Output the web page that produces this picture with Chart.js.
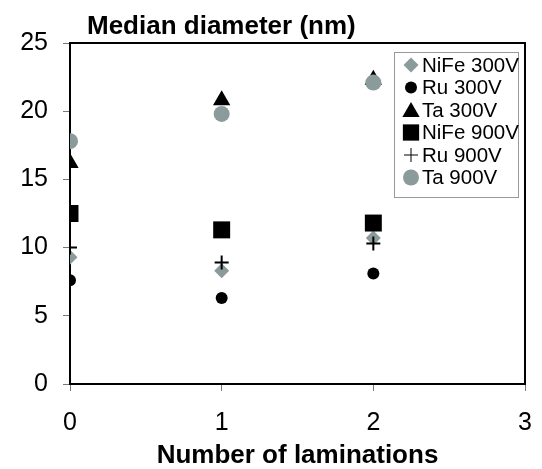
<!DOCTYPE html>
<html>
<head>
<meta charset="utf-8">
<script src="https://cdn.jsdelivr.net/npm/chart.js@4/dist/chart.umd.min.js"></script>
<style>
  html, body { margin: 0; padding: 0; background: #fff; }
</style>
</head>
<body>
<canvas id="chart" width="542" height="469"></canvas>
<script>
// values
const laminations = [0, 1, 2];
const nife300 = [9.3, 8.3, 10.7];
const ru300 = [7.6, 6.3, 8.1];
const ta300 = [16.2, 20.8, 22.3];
const nife900 = [12.5, 11.3, 11.8];
const ru900 = [10.0, 8.9, 10.3];
const ta900 = [17.8, 19.8, 22.1];
const seriesNames = ["NiFe 300V", "Ru 300V", "Ta 300V", "NiFe 900V", "Ru 900V", "Ta 900V"];
const xTicks = [0, 1, 2, 3];
const yTicks = [0, 5, 10, 15, 20, 25];

const FONT = "'Liberation Sans', Arial, sans-serif";
const GREY = "#8b9b9b";

const styles = [
  { pointStyle: "rectRot", color: GREY, radius: 7.5, legendRadius: 7.5 },
  { pointStyle: "circle", color: "#000", radius: 6, legendRadius: 6 },
  { pointStyle: "triangle", color: "#000", radius: 10, legendRadius: 10 },
  { pointStyle: "rect", color: "#000", radius: 12, legendRadius: 11.5 },
  { pointStyle: "cross", color: "#000", radius: 7, legendRadius: 7, border: 2 },
  { pointStyle: "circle", color: GREY, radius: 8, legendRadius: 8 }
];

const allValues = [nife300, ru300, ta300, nife900, ru900, ta900];

const datasets = allValues.map((vals, i) => ({
  label: seriesNames[i],
  data: laminations.map((x, j) => ({ x: x, y: vals[j] })),
  pointStyle: styles[i].pointStyle,
  pointRadius: styles[i].radius,
  pointHoverRadius: styles[i].radius,
  backgroundColor: styles[i].color,
  borderColor: styles[i].color,
  borderWidth: styles[i].border || 0,
  showLine: false,
  order: allValues.length - i   // later series on top
}));

// frame, title and the legend box inside the plot
const decorations = {
  id: "decorations",
  beforeDatasetsDraw(chart) {
    const { ctx, chartArea: a } = chart;
    ctx.save();
    ctx.strokeStyle = "#000";
    ctx.lineWidth = 2;
    ctx.strokeRect(a.left, a.top, a.right - a.left, a.bottom - a.top);
    ctx.restore();
  },
  afterDraw(chart) {
    const { ctx, chartArea: a } = chart;
    ctx.save();
    ctx.fillStyle = "#000";
    ctx.font = "bold 26px " + FONT;
    ctx.textBaseline = "alphabetic";
    ctx.textAlign = "left";
    ctx.fillText("Median diameter (nm)", 87, 34);

    // legend
    const boxW = 124, boxH = 145;
    const bx = a.right - 7 - boxW, by = a.top + 9;
    ctx.fillStyle = "#fff";
    ctx.fillRect(bx, by, boxW, boxH);
    ctx.strokeStyle = "#999";
    ctx.lineWidth = 1;
    ctx.strokeRect(bx + 0.5, by + 0.5, boxW, boxH);
    ctx.font = "20.5px " + FONT;
    ctx.textBaseline = "middle";
    seriesNames.forEach((name, i) => {
      const cy = by + 13 + i * 22.5;
      const s = styles[i];
      ctx.fillStyle = s.color;
      ctx.strokeStyle = s.color;
      Chart.helpers.drawPoint(ctx, {
        pointStyle: s.pointStyle, radius: s.legendRadius, rotation: 0,
        borderWidth: s.border || 0
      }, bx + 17, cy + (s.pointStyle === "triangle" ? 2 : 0));
      ctx.fillStyle = "#000";
      ctx.fillText(name, bx + 28, cy + 1);
    });
    ctx.restore();
  }
};

new Chart(document.getElementById("chart"), {
  type: "scatter",
  data: { datasets },
  options: {
    responsive: false,
    animation: false,
    layout: { padding: { top: 43, right: 17, left: 0, bottom: 0 } },
    plugins: { legend: { display: false }, tooltip: { enabled: false }, title: { display: false } },
    scales: {
      x: {
        type: "linear",
        min: xTicks[0], max: xTicks[xTicks.length - 1],
        afterBuildTicks: (scale) => { scale.ticks = xTicks.map(v => ({ value: v })); },
        afterFit: (scale) => { scale.height = 85; scale.paddingLeft = 0; scale.paddingRight = 0; },
        border: { display: true, color: "#000", width: 2 },
        grid: { drawOnChartArea: false, drawTicks: true, tickLength: 7, tickColor: "#777", lineWidth: 1 },
        ticks: { color: "#000", font: { family: FONT, size: 25 }, padding: 17, maxRotation: 0 },
        title: {
          display: true, text: "Number of laminations", color: "#000",
          font: { family: FONT, size: 26, weight: "bold", lineHeight: 1 }, padding: { top: 0, bottom: 0 }
        }
      },
      y: {
        type: "linear",
        min: yTicks[0], max: yTicks[yTicks.length - 1],
        afterBuildTicks: (scale) => { scale.ticks = yTicks.map(v => ({ value: v })); },
        afterFit: (scale) => { scale.width = 70; scale.paddingTop = 0; scale.paddingBottom = 0; },
        border: { display: true, color: "#000", width: 2 },
        grid: { drawOnChartArea: false, drawTicks: true, tickLength: 7, tickColor: "#777", lineWidth: 1 },
        ticks: { color: "#000", font: { family: FONT, size: 25 }, padding: 15 }
      }
    }
  },
  plugins: [decorations]
});
</script>
</body>
</html>
